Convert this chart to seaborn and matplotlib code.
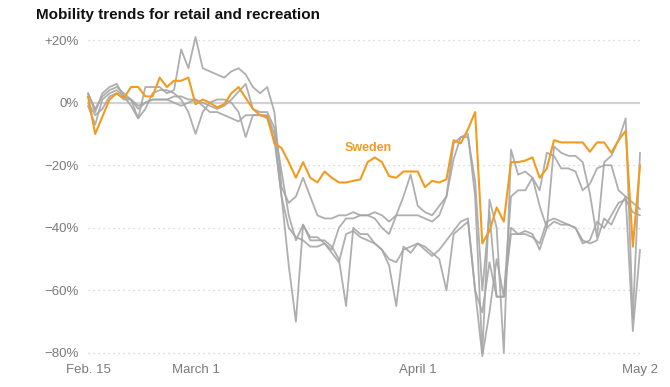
import pandas as pd
import matplotlib.pyplot as plt
import seaborn as sns

# daily change from baseline (%), starting Feb. 15, 2020
start_date = '2020-02-15'

sweden = [2, -10, -4.5, 1, 3, 1.5, 5, 5, 2, 2,
          8, 5, 7, 7, 8, -0.5, 1, 0, -1.5, -0.5,
          3, 5, 1.5, -2, -4, -4.5, -13, -14.5, -19, -24,
          -19, -24, -25.5, -22, -24, -25.5, -25.5, -25, -24.5, -19,
          -17.5, -19, -23.5, -24, -22, -22, -22, -27, -25, -25.5,
          -24.5, -12, -13, -8.5, -3, -45, -41, -33.5, -38, -19,
          -19, -18.5, -17.5, -24, -21, -12, -12.7, -12.7, -12.7, -12.7,
          -15.7, -12.7, -12.7, -16, -12, -9, -46, -20]

other_a = [3, -3, 3, 5, 6, 2, -1, -5, 5, 5,
           5, 3, 4, 17, 11, 21, 11, 10, 9, 8,
           10, 11, 9, 5, 3, 5, -3, -27, -32, -30,
           -24, -30, -36, -37, -37, -36, -36, -35, -36, -36,
           -35, -36, -38, -36, -30, -23, -33, -35, -36, -33,
           -30, -13, -11, -10, -30, -80, -31, -40, -80, -15,
           -23, -22, -24, -33, -40, -14, -16, -17, -17, -19,
           -29, -43, -19, -17, -12, -5, -69, -16]

other_b = [-1, -7, 1, 3, 4, 2, 1, -5, -2, 3,
           4, 4, 3, 1, -3, -10, -3, 0, 1, 1,
           0, -3, -11, -4, -4, -5, -12, -30, -52, -70,
           -39, -44, -44, -44, -46, -50, -65, -40, -42, -42,
           -45, -47, -52, -65, -46, -48, -45, -46, -48, -50,
           -60, -42, -40, -38, -60, -67, -51, -62, -62, -42,
           -42, -41, -42, -47, -40, -38, -39, -39, -40, -44,
           -45, -44, -37, -39, -34, -30, -73, -47]

other_c = [3, -2, 2, 4, 5, 3, 1, -2, 0, 1,
           1, 1, 2, 2, 1, 1, 0, -1, -2, -1,
           1, 3.5, 6, -2, -3, -3, -8, -22, -36, -44,
           -39, -43, -43, -45, -47, -40, -37, -37, -36, -36,
           -37, -40, -42, -36, -36, -36, -36, -37, -38, -36,
           -30, -18, -11, -11, -25, -60, -35, -62, -62, -30,
           -28, -28, -24, -28, -16, -17, -21, -21, -22, -28,
           -26, -21, -20, -20, -28, -30, -32, -34]

other_d = [0, -4, -2, 2, 3, 1, 1, -1, 0, 1,
           1, 1, 0, -1, 0, 1, -1, -3, -3, -4,
           -5, -6, -4, -4, -4, -4, -10, -30, -40, -43,
           -44, -46, -46, -45, -48, -51, -42, -41, -43, -44,
           -45, -47, -50, -51, -47, -46, -45, -47, -49, -47,
           -44, -41, -38, -37, -60, -81, -67, -50, -62, -40,
           -42, -42, -43, -45, -38, -37, -38, -39, -40, -45,
           -44, -38, -40, -36, -32, -31, -35, -36]

tick_dates = ['2020-02-15', '2020-03-01', '2020-04-01', '2020-05-02']
tick_labels = ['Feb. 15', 'March 1', 'April 1', 'May 2']
y_ticks = [20, 0, -20, -40, -60, -80]
y_labels = ['+20%', '0%', '\u221220%', '\u221240%', '\u221260%', '\u221280%']

dates = pd.date_range(start_date, periods=len(sweden), freq='D')
series = {'Other A': other_a, 'Other B': other_b, 'Other C': other_c,
          'Other D': other_d, 'Sweden': sweden}
df = pd.concat([pd.DataFrame({'date': dates, 'change': v, 'country': k})
                for k, v in series.items()], ignore_index=True)

sns.set_theme(style='white')
plt.rcParams['font.family'] = ['Liberation Sans', 'DejaVu Sans']

gray = '#a6a6a6'
orange = '#f29b1f'
label_color = '#7a7a7a'

fig = plt.figure(figsize=(6.7, 3.87), dpi=100)
ax = fig.add_axes([0.126, 0.0636, 0.8346, 0.849])

for y in y_ticks:
    if y == 0:
        ax.hlines(y, dates[0], dates[-1], color='#d2d2d2', lw=1.6, zorder=1)
    else:
        ax.hlines(y, dates[0], dates[-1], color='#cfcfcf', lw=0.9,
                  linestyles=(0, (1, 3)), zorder=1)

sns.lineplot(data=df[df.country != 'Sweden'], x='date', y='change',
             units='country', estimator=None, color=gray, lw=1.3,
             alpha=0.9, ax=ax, zorder=2)
sns.lineplot(data=df[df.country == 'Sweden'], x='date', y='change',
             color=orange, lw=1.5, ax=ax, zorder=3)

ax.text(dates[0] + pd.Timedelta(days=35.8), -14.4, 'Sweden', color=orange,
        fontsize=9, fontweight='bold', va='center', ha='left')

ax.set_xlim(dates[0] - pd.Timedelta(hours=12), dates[-1] + pd.Timedelta(hours=12))
ax.set_ylim(-83, 22)
ax.set_xticks(pd.to_datetime(tick_dates))
ax.set_xticklabels(tick_labels)
ax.set_yticks(y_ticks)
ax.set_yticklabels(y_labels)
ax.tick_params(axis='y', length=0, labelsize=9.5, colors=label_color, pad=4)
ax.tick_params(axis='x', length=0, labelsize=9.5, colors=label_color, pad=1.5)
ax.set_xlabel('')
ax.set_ylabel('')
sns.despine(ax=ax, left=True, bottom=True)

fig.text(36 / 670, 1 - 19 / 387, 'Mobility trends for retail and recreation',
         fontsize=11, fontweight='bold', va='baseline', color='#111111',
         family=['Liberation Sans Narrow', 'Liberation Sans', 'DejaVu Sans'])

fig.savefig('out.png', dpi=100)
